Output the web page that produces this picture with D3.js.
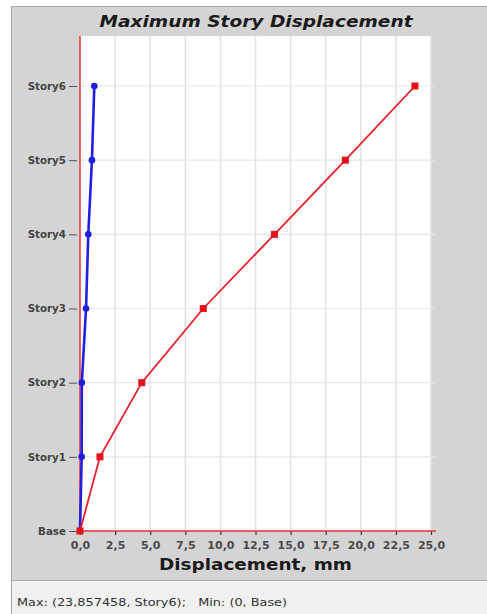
<!DOCTYPE html>
<html>
<head>
<meta charset="utf-8">
<script src="https://cdn.jsdelivr.net/npm/d3@7"></script>
<style>
  html, body { margin: 0; padding: 0; background: #ffffff; }
  svg { display: block; }
</style>
</head>
<body>
<svg id="chart" width="487" height="614"></svg>
<script>
// ---- data ----
const stories = ["Base", "Story1", "Story2", "Story3", "Story4", "Story5", "Story6"];
const redValues = [0, 1.42, 4.40, 8.78, 13.85, 18.90, 23.857458];
const blueValues = [0, 0.12, 0.13, 0.43, 0.59, 0.85, 1.02];
const xTicks = [0, 2.5, 5, 7.5, 10, 12.5, 15, 17.5, 20, 22.5, 25];
const titleText = "Maximum Story Displacement";
const xLabelText = "Displacement, mm";
const statusText = "Max: (23,857458, Story6);   Min: (0, Base)";

// ---- layout ----
const svg = d3.select("#chart");
const W = 487, H = 614;
const plot = { left: 80, right: 431, top: 36, bottom: 531 };
const FONT = "'DejaVu Sans', Verdana, sans-serif";

// outer panel
svg.append("rect").attr("x", 11.5).attr("y", 6.5).attr("width", W - 11).attr("height", 574)
  .attr("fill", "#d4d4d4").attr("stroke", "#a8a8a8").attr("stroke-width", 1);
// status bar
svg.append("rect").attr("x", 11.5).attr("y", 580.5).attr("width", W - 11).attr("height", 40)
  .attr("fill", "#f0f0f0").attr("stroke", "#a8a8a8").attr("stroke-width", 1);

// plot background
svg.append("rect").attr("x", plot.left).attr("y", plot.top)
  .attr("width", plot.right - plot.left).attr("height", plot.bottom - plot.top)
  .attr("fill", "#ffffff");

const x = d3.scaleLinear().domain([0, 25]).range([plot.left, plot.right]);
const y = d3.scalePoint().domain(stories).range([plot.bottom, 86]);

// gridlines
const g = svg.append("g");
g.selectAll("line.vg").data(xTicks.slice(1)).join("line")
  .attr("x1", d => x(d)).attr("x2", d => x(d))
  .attr("y1", plot.top).attr("y2", plot.bottom)
  .attr("stroke", "#e2e2e2").attr("stroke-width", 1.5);
g.selectAll("line.hg").data(stories.slice(1)).join("line")
  .attr("x1", plot.left).attr("x2", plot.right + 4)
  .attr("y1", d => y(d)).attr("y2", d => y(d))
  .attr("stroke", "#e6e6e6").attr("stroke-width", 1.2);

// x axis
const xAxis = d3.axisBottom(x).tickValues(xTicks)
  .tickFormat(d => d3.format(".1f")(d).replace(".", ","))
  .tickSize(4).tickPadding(6);
const xg = svg.append("g").attr("transform", `translate(0,${plot.bottom})`).call(xAxis);
xg.select(".domain").remove();
xg.selectAll(".tick line").attr("stroke", "#333").attr("stroke-width", 1.2);
xg.selectAll(".tick text").attr("fill", "#4a4a4a")
  .style("font-family", FONT).style("font-weight", "bold").style("font-size", "11px");
// y axis
const yAxis = d3.axisLeft(y).tickSize(8).tickPadding(3);
const yg = svg.append("g").attr("transform", `translate(${plot.left - 3},0)`).call(yAxis);
yg.select(".domain").remove();
yg.selectAll(".tick line").attr("stroke", "#555").attr("stroke-width", 1);
yg.selectAll(".tick text").attr("fill", "#444")
  .style("font-family", FONT).style("font-weight", "bold").style("font-size", "10.3px");

// red axis lines
svg.append("line").attr("x1", plot.left).attr("x2", plot.right + 5)
  .attr("y1", plot.bottom).attr("y2", plot.bottom)
  .attr("stroke", "#e8303a").attr("stroke-width", 1.5);
svg.append("line").attr("x1", plot.left).attr("x2", plot.left)
  .attr("y1", plot.top).attr("y2", plot.bottom)
  .attr("stroke", "#e8303a").attr("stroke-width", 1.5);

// series
const redData = stories.map((s, i) => ({ s, v: redValues[i] }));
const blueData = stories.map((s, i) => ({ s, v: blueValues[i] }));
const line = d3.line().x(d => x(d.v)).y(d => y(d.s));

svg.append("path").datum(blueData).attr("d", line)
  .attr("fill", "none").attr("stroke", "#1f1fe0").attr("stroke-width", 2.6);
svg.selectAll("circle.b").data(blueData.slice(1)).join("circle")
  .attr("cx", d => x(d.v)).attr("cy", d => y(d.s)).attr("r", 3.3)
  .attr("fill", "#1f1fe0");

svg.append("path").datum(redData).attr("d", line)
  .attr("fill", "none").attr("stroke", "#e8202a").attr("stroke-width", 1.8);
svg.selectAll("rect.r").data(redData).join("rect")
  .attr("x", d => x(d.v) - 3.5).attr("y", d => y(d.s) - 3.5)
  .attr("width", 7).attr("height", 7).attr("fill", "#e8101a");

// titles
svg.append("text").attr("x", 256).attr("y", 27).attr("text-anchor", "middle")
  .attr("textLength", 313).attr("lengthAdjust", "spacingAndGlyphs")
  .style("font-family", FONT)
  .style("font-size", "15.5px").style("font-weight", "bold").style("font-style", "italic")
  .attr("fill", "#1a1a1a").text(titleText);
svg.append("text").attr("x", 255.5).attr("y", 570).attr("text-anchor", "middle")
  .attr("textLength", 193).attr("lengthAdjust", "spacingAndGlyphs")
  .style("font-family", FONT)
  .style("font-size", "15.5px").style("font-weight", "bold")
  .attr("fill", "#1a1a1a").text(xLabelText);
svg.append("text").attr("x", 17).attr("y", 606)
  .attr("textLength", 270).attr("lengthAdjust", "spacingAndGlyphs")
  .style("font-family", FONT)
  .style("font-size", "10px").attr("fill", "#333").style("white-space", "pre")
  .text(statusText);
</script>
</body>
</html>
